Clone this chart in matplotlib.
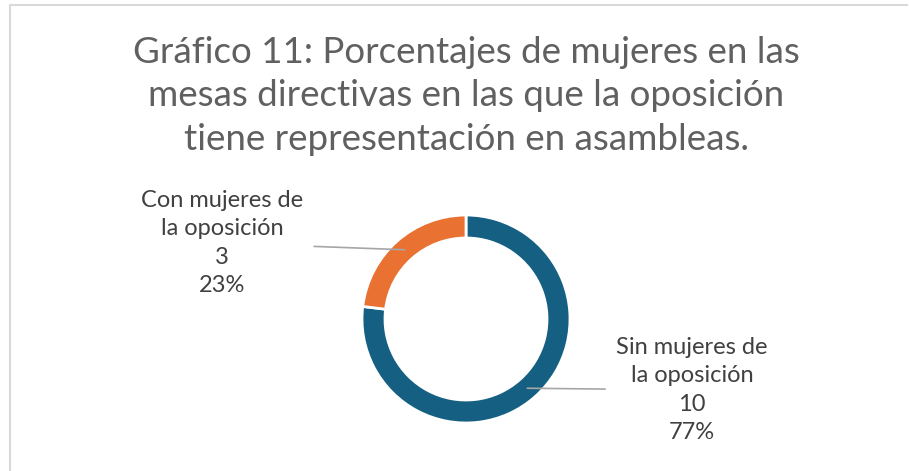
import numpy as np
import matplotlib.pyplot as plt

# data
categorias = ['Sin mujeres de\nla oposición', 'Con mujeres de\nla oposición']
valores = [10, 3]
colores = ['#156082', '#E97132']
titulo = 'Gráfico 11: Porcentajes de mujeres en las\nmesas directivas en las que la oposición\ntiene representación en asambleas.'

plt.rcParams['font.family'] = ['Lato', 'DejaVu Sans']
W, H = 909, 471
fig = plt.figure(figsize=(W / 100, H / 100), dpi=100)
ax = fig.add_axes([0, 0, 1, 1])

# chart border (left and top)
ax.plot([9.5, 9.5, 908], [0, H - 4.5, H - 4.5], color='#d9d9d9', lw=1.5, solid_capstyle='butt')

cx, cy, r = 466, H - 319, 104
wedges, _ = ax.pie(valores, colors=colores, startangle=90, counterclock=False,
                   center=(cx, cy), radius=r, frame=True,
                   wedgeprops=dict(width=23, edgecolor='white', linewidth=2))
ax.set_xlim(0, W)
ax.set_ylim(0, H)
ax.set_aspect('equal')
ax.axis('off')

ax.text(cx, H - 96, titulo, ha='center', va='center', fontsize=26.5,
        color='#606060', linespacing=1.38)

total = sum(valores)
label_pos = [(692, H - 390), (222, H - 243)]
for w, cat, v, pos in zip(wedges, categorias, valores, label_pos):
    ang = np.deg2rad((w.theta1 + w.theta2) / 2)
    rm = r - 23 / 2
    px, py = cx + rm * np.cos(ang), cy + rm * np.sin(ang)
    txt = '%s\n%d\n%d%%' % (cat, v, round(v / total * 100))
    ax.annotate(txt, xy=(px, py), xytext=pos, ha='center', va='center',
                fontsize=17, color='#404040', linespacing=1.45,
                arrowprops=dict(arrowstyle='-', color='#a6a6a6', lw=1.2,
                                shrinkA=6, shrinkB=0))

fig.savefig('out.png', dpi=100)
